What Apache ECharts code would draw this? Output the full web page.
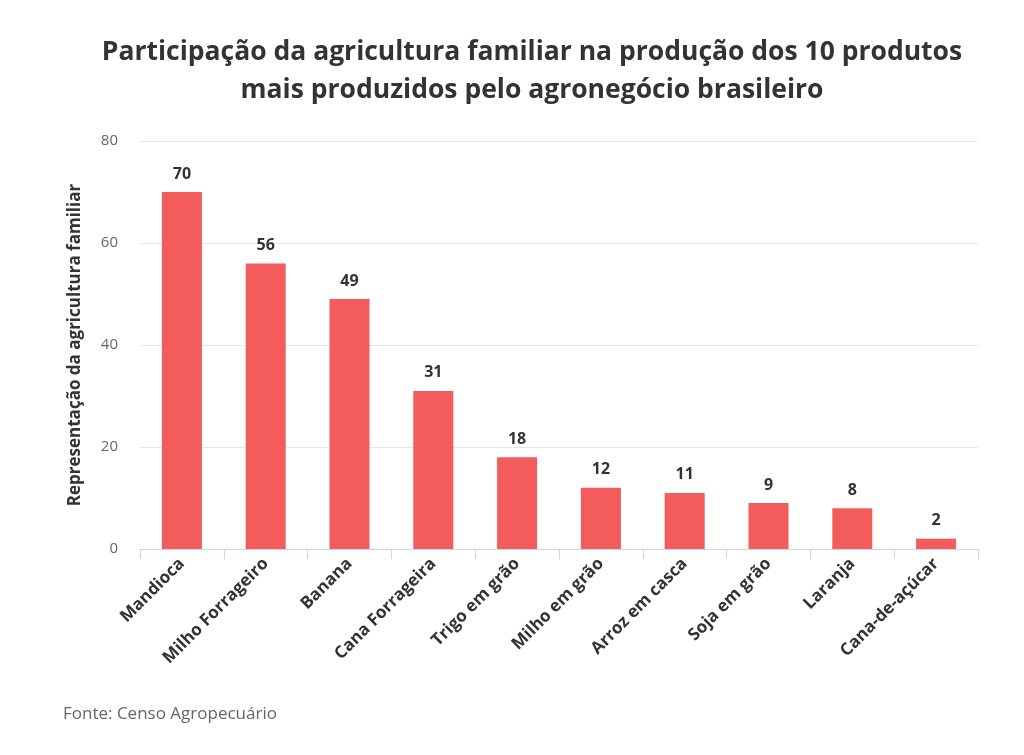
<!DOCTYPE html>
<html><head><meta charset="utf-8">
<script src="https://cdn.jsdelivr.net/npm/echarts@6/dist/echarts.min.js"></script>
<style>html,body{margin:0;padding:0;background:#fff}#c{width:1024px;height:755px}</style>
</head><body><div id="c"></div>
<script>
const categories = ["Mandioca","Milho Forrageiro","Banana","Cana Forrageira","Trigo em grão","Milho em grão","Arroz em casca","Soja em grão","Laranja","Cana-de-açúcar"];
const values = [70,56,49,31,18,12,11,9,8,2];
const titleText = "Participação da agricultura familiar na produção dos 10 produtos\nmais produzidos pelo agronegócio brasileiro";
const yAxisTitle = "Representação da agricultura familiar";
const sourceText = "Fonte: Censo Agropecuário";

const chart = echarts.init(document.getElementById('c'));
chart.setOption({
  backgroundColor:'#fff',
  textStyle:{fontFamily:'Open Sans'},
  title:[{
    text:titleText, left:527, top:28, textAlign:'center',
    textStyle:{fontFamily:'Open Sans',fontSize:26.5,fontWeight:'bold',color:'#333',lineHeight:38}
  },{
    text:sourceText, left:58, top:701,
    textStyle:{fontFamily:'Open Sans',fontSize:17,fontWeight:'normal',color:'#666'}
  }],
  grid:{left:140,right:46,top:141,bottom:206},
  xAxis:{
    type:'category', data:categories,
    axisLine:{lineStyle:{color:'#ccd6eb'}},
    axisTick:{show:true,length:10,lineStyle:{color:'#ccd6eb'},alignWithLabel:false},
    axisLabel:{rotate:45,interval:0,fontSize:17,fontWeight:'bold',color:'#333',margin:12}
  },
  yAxis:{
    type:'value', min:0, max:80, interval:20,
    name:yAxisTitle, nameLocation:'middle', nameGap:56,
    nameTextStyle:{fontSize:17,fontWeight:'bold',color:'#333'},
    axisLabel:{fontSize:15,color:'#666',margin:22},
    splitLine:{lineStyle:{color:'#e6e6e6'}},
    axisLine:{show:false}, axisTick:{show:false}
  },
  series:[{
    type:'bar', data:values, barWidth:40,
    itemStyle:{color:'#f45b5b'},
    label:{show:true,position:'top',distance:10,fontSize:16,fontWeight:'bold',color:'#333'}
  }]
});
</script></body></html>
